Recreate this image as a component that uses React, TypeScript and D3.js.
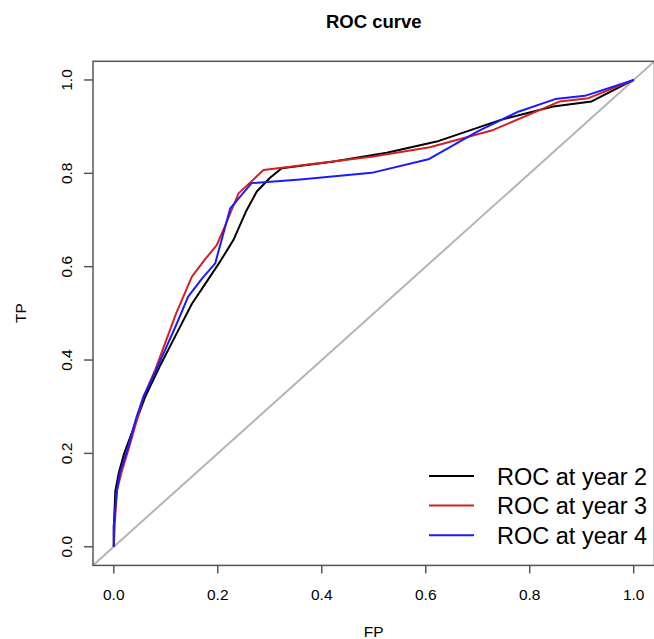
import React from 'react'
import * as d3 from 'd3'

// readings, [FP, TP]
const year2: [number, number][] = [
  [0, 0], [0, 0.04], [0.003, 0.12], [0.01, 0.16], [0.02, 0.2], [0.04, 0.26],
  [0.06, 0.32], [0.09, 0.39], [0.12, 0.455], [0.15, 0.52], [0.18, 0.57],
  [0.205, 0.612], [0.23, 0.657], [0.255, 0.72], [0.275, 0.761], [0.3, 0.79],
  [0.323, 0.811], [0.42, 0.825], [0.525, 0.844], [0.621, 0.868], [0.743, 0.914],
  [0.845, 0.943], [0.919, 0.954], [1, 1],
]
const year3: [number, number][] = [
  [0, 0], [0.002, 0.05], [0.006, 0.12], [0.015, 0.16], [0.03, 0.215],
  [0.057, 0.321], [0.08, 0.38], [0.1, 0.44], [0.12, 0.5], [0.15, 0.578],
  [0.175, 0.615], [0.198, 0.646], [0.215, 0.69], [0.24, 0.757], [0.288, 0.807],
  [0.499, 0.836], [0.608, 0.856], [0.73, 0.893], [0.858, 0.954], [0.913, 0.961],
  [1, 1],
]
const year4: [number, number][] = [
  [0, 0], [0, 0.046], [0.006, 0.121], [0.012, 0.16], [0.022, 0.193],
  [0.044, 0.279], [0.057, 0.321], [0.08, 0.375], [0.1, 0.425], [0.12, 0.475],
  [0.143, 0.536], [0.17, 0.575], [0.195, 0.607], [0.224, 0.725], [0.265, 0.779],
  [0.359, 0.787], [0.496, 0.801], [0.605, 0.83], [0.7, 0.89], [0.778, 0.932],
  [0.849, 0.959], [0.906, 0.966], [1, 1],
]

const seriesNames = ['ROC at year 2', 'ROC at year 3', 'ROC at year 4']
const seriesColors = ['#000000', '#d42020', '#1a1aff']
const ticks = [0, 0.2, 0.4, 0.6, 0.8, 1.0]

function App() {
  const width = 654
  const height = 639
  const series = [year2, year3, year4]

  // R pads the data range by 4% on each side
  const x = d3.scaleLinear().domain([-0.04, 1.04]).range([93, 654.5])
  const y = d3.scaleLinear().domain([-0.04, 1.04]).range([565.4, 61.3])

  const line = d3.line<[number, number]>()
    .x(d => x(d[0]))
    .y(d => y(d[1]))

  const font = 'Liberation Sans, Arial, Helvetica, sans-serif'
  const axisColor = '#555'

  return (
    <svg width={width} height={height} style={{ position: 'absolute', left: 0, top: 0 }} fontFamily={font}>
      <defs>
        <clipPath id="plotArea">
          <rect x={x(-0.04)} y={y(1.04)} width={x(1.04) - x(-0.04)} height={y(-0.04) - y(1.04)} />
        </clipPath>
      </defs>

      <text x={(x(-0.04) + x(1.04)) / 2} y={28} textAnchor="middle" fontSize={18.5} fontWeight="bold">ROC curve</text>

      {/* diagonal reference line */}
      <line x1={x(-0.04)} y1={y(-0.04)} x2={x(1.04)} y2={y(1.04)} stroke="#b4b4b4" strokeWidth={2} clipPath="url(#plotArea)" />

      {series.map((s, i) => (
        <path key={seriesNames[i]} d={line(s) ?? ''} fill="none" stroke={seriesColors[i]} strokeWidth={2} strokeLinejoin="round" clipPath="url(#plotArea)" />
      ))}

      {/* plot box */}
      <rect x={x(-0.04)} y={y(1.04)} width={x(1.04) - x(-0.04)} height={y(-0.04) - y(1.04)} fill="none" stroke={axisColor} strokeWidth={1.5} />

      {ticks.map(t => (
        <g key={'x' + t}>
          <line x1={x(t)} x2={x(t)} y1={y(-0.04)} y2={y(-0.04) + 8} stroke={axisColor} strokeWidth={1.5} />
          <text x={x(t)} y={600} textAnchor="middle" fontSize={15.5}>{t.toFixed(1)}</text>
        </g>
      ))}
      {ticks.map(t => (
        <g key={'y' + t}>
          <line x1={x(-0.04)} x2={x(-0.04) - 9} y1={y(t)} y2={y(t)} stroke={axisColor} strokeWidth={1.5} />
          <text x={72} y={y(t)} textAnchor="middle" fontSize={15.5} transform={`rotate(-90,72,${y(t)})`}>{t.toFixed(1)}</text>
        </g>
      ))}

      <text x={(x(-0.04) + x(1.04)) / 2} y={637} textAnchor="middle" fontSize={15.5}>FP</text>
      <text x={26} y={313} textAnchor="middle" fontSize={15.5} transform="rotate(-90,26,313)">TP</text>

      {/* legend, no box */}
      {seriesNames.map((name, i) => {
        const ly = 476 + i * 29.6
        return (
          <g key={'leg' + name}>
            <line x1={429} x2={474} y1={ly} y2={ly} stroke={seriesColors[i]} strokeWidth={2} />
            <text x={497} y={ly + 8.5} fontSize={23.5}>{name}</text>
          </g>
        )
      })}
    </svg>
  )
}

export default App
